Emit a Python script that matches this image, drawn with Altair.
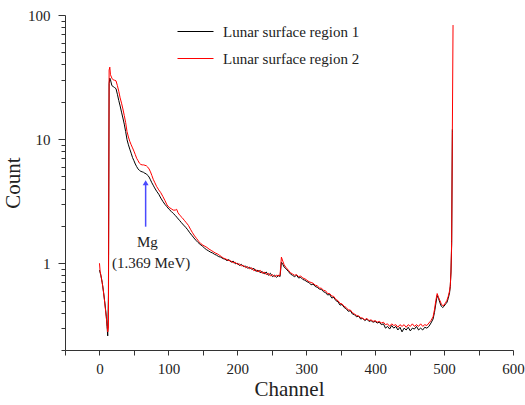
import altair as alt
import pandas as pd

# ---- Region 1 (black) ----
r1_ch_low = [0, 2, 4, 6, 8, 10, 11, 12, 13, 14, 15, 16,
             18, 20, 22, 24, 26, 28, 30, 32, 34, 36, 38, 40, 42, 44, 46, 48, 50,
             52, 54, 56, 58, 60, 62, 64, 66, 68, 70, 72, 74, 76, 78, 80,
             83, 86, 89, 92, 95, 98, 101, 104, 107, 110, 113, 116, 119, 122, 125,
             128, 131, 134, 137, 140, 143, 146, 149, 152, 155, 158, 161, 164, 167,
             170, 173, 176, 179, 182]
r1_cnt_low = [0.88, 0.80, 0.70, 0.58, 0.47, 0.37, 0.31, 0.26, 0.55, 28, 31, 30,
              27, 26.5, 26, 25.5, 23, 20.5, 18.5, 16.5, 14.8, 13.2, 11.5, 9.9, 9.0, 8.3, 7.7, 7.1, 6.7,
              6.3, 6.0, 5.75, 5.6, 5.5, 5.45, 5.4, 5.3, 5.25, 5.1, 4.95, 4.7, 4.45, 4.25, 4.05,
              3.8, 3.6, 3.35, 3.15, 2.98, 2.85, 2.72, 2.62, 2.52, 2.43, 2.32, 2.22, 2.12, 2.03, 1.95,
              1.86, 1.76, 1.68, 1.60, 1.53, 1.47, 1.42, 1.38, 1.33, 1.29, 1.26, 1.23, 1.21, 1.18,
              1.16, 1.13, 1.12, 1.09, 1.08]
r1_ch_mid = list(range(185, 261, 3)) + [262, 264, 266, 268] + list(range(271, 479, 3))
r1_cnt_mid = [1.05, 1.07, 1.02, 1.04, 0.99, 1.00, 0.96, 0.98, 0.94, 0.95,
              0.91, 0.93, 0.89, 0.91, 0.86, 0.88, 0.84, 0.86, 0.82, 0.85,
              0.80, 0.83, 0.78, 0.80, 0.77, 0.80,
              0.78, 1.02, 0.98, 0.93,
              0.90, 0.86, 0.82, 0.80, 0.78, 0.80, 0.76, 0.77, 0.74, 0.73,
              0.71, 0.70, 0.67, 0.68, 0.65, 0.64, 0.62, 0.615, 0.59, 0.58,
              0.555, 0.56, 0.525, 0.53, 0.50, 0.49, 0.46, 0.465, 0.44, 0.43,
              0.41, 0.415, 0.39, 0.385, 0.37, 0.375, 0.355, 0.36, 0.345, 0.355,
              0.34, 0.345, 0.335, 0.34, 0.33, 0.335, 0.32, 0.325, 0.30, 0.31,
              0.295, 0.315, 0.30, 0.31, 0.29, 0.305, 0.28, 0.30, 0.29, 0.305,
              0.285, 0.30, 0.295, 0.31, 0.29, 0.30, 0.29, 0.305, 0.30, 0.31]
r1_ch_high = [481, 484, 486, 488, 490, 492, 494, 496, 498, 500, 502, 504, 506, 508, 509, 510, 511, 512]
r1_cnt_high = [0.33, 0.355, 0.40, 0.47, 0.55, 0.52, 0.48, 0.45, 0.44, 0.45, 0.47, 0.48, 0.52, 0.58,
               0.65, 0.85, 1.4, 12.0]

# ---- Region 2 (red) ----
r2_ch_low = [0, 1, 3, 5, 7, 9, 11, 12, 13, 14, 15, 16, 18, 20, 22, 24, 26, 28, 30,
             32, 34, 36, 38, 40, 42, 44, 46, 48, 50, 52, 54, 56, 58, 60, 62, 64, 66, 68,
             70, 72, 74, 76, 78, 80, 83, 86, 89, 92, 95, 98, 101, 104, 107, 110, 112, 114,
             117, 120, 123, 126, 129, 132, 135, 138, 141, 144, 147, 150, 153, 156, 159,
             162, 165, 168, 171, 174, 177, 180, 182]
r2_cnt_low = [1.0, 0.86, 0.75, 0.64, 0.52, 0.41, 0.32, 0.28, 0.30, 36, 38, 33, 31, 30, 29.8, 29.5, 27, 24.3, 21.5,
              19.5, 17.5, 15.5, 13.6, 11.5, 10.4, 9.6, 9.0, 8.5, 8.0, 7.5, 7.0, 6.7, 6.4, 6.25, 6.2, 6.2, 6.15, 6.1,
              5.95, 5.75, 5.45, 5.1, 4.75, 4.5, 4.15, 3.9, 3.7, 3.45, 3.2, 2.95, 2.82, 2.75, 2.68, 2.68, 2.72, 2.55,
              2.42, 2.33, 2.22, 2.12, 2.02, 1.88, 1.76, 1.66, 1.58, 1.50, 1.44, 1.40, 1.37, 1.34, 1.30,
              1.27, 1.24, 1.21, 1.19, 1.16, 1.13, 1.10, 1.09]
r2_ch_mid = list(range(185, 261, 3)) + [262, 264, 266, 268] + list(range(271, 479, 3))
r2_cnt_mid = [1.07, 1.05, 1.04, 1.01, 1.02, 0.98, 0.99, 0.95, 0.96, 0.92,
              0.94, 0.90, 0.92, 0.87, 0.89, 0.85, 0.88, 0.83, 0.85, 0.81,
              0.83, 0.79, 0.81, 0.78, 0.80, 0.79,
              0.80, 1.12, 1.04, 0.97,
              0.92, 0.88, 0.84, 0.82, 0.80, 0.81, 0.78, 0.79, 0.76, 0.75,
              0.73, 0.71, 0.70, 0.69, 0.665, 0.66, 0.63, 0.63, 0.605, 0.60,
              0.57, 0.57, 0.545, 0.54, 0.51, 0.50, 0.475, 0.47, 0.45, 0.44,
              0.42, 0.42, 0.40, 0.39, 0.38, 0.375, 0.365, 0.36, 0.35, 0.36,
              0.345, 0.35, 0.34, 0.345, 0.335, 0.34, 0.33, 0.335, 0.32, 0.325,
              0.31, 0.325, 0.315, 0.32, 0.305, 0.32, 0.31, 0.32, 0.305, 0.32,
              0.31, 0.325, 0.31, 0.32, 0.31, 0.325, 0.31, 0.32, 0.315, 0.33]
r2_ch_high = [481, 484, 486, 488, 490, 492, 494, 496, 498, 500, 502, 504, 506, 508, 509, 510, 511, 512, 513]
r2_cnt_high = [0.345, 0.37, 0.42, 0.50, 0.57, 0.53, 0.50, 0.47, 0.455, 0.46, 0.48, 0.50, 0.54, 0.60,
               0.66, 0.85, 1.5, 11.5, 83]

series_names = ["Lunar surface region 1", "Lunar surface region 2"]
series_colors = ["#000000", "#ff0000"]

# annotation
mg_channel = [67]
mg_arrow_from = [1.97]
mg_arrow_to = [4.3]
mg_head = [4.45]
mg_text = ["Mg", "(1.369 MeV)"]
mg_text_ch = [69.5, 75]
mg_text_cnt = [1.36, 0.91]

ch1 = r1_ch_low + r1_ch_mid + r1_ch_high
v1 = r1_cnt_low + r1_cnt_mid + r1_cnt_high
ch2 = r2_ch_low + r2_ch_mid + r2_ch_high
v2 = r2_cnt_low + r2_cnt_mid + r2_cnt_high
assert len(ch1) == len(v1) and len(ch2) == len(v2)

df = pd.DataFrame({
    "channel": ch1 + ch2,
    "count": v1 + v2,
    "series": [series_names[0]] * len(ch1) + [series_names[1]] * len(ch2),
    "order": list(range(len(ch1))) + list(range(len(ch2))),
})

FONT = "Liberation Serif"
xscale = alt.Scale(domain=[-50, 600], nice=False, zero=False)
yscale = alt.Scale(type="log", domain=[0.2, 100], nice=False)

y_ticks = [0.2, 0.3, 0.4, 0.5, 0.6, 0.7, 0.8, 0.9,
           1, 2, 3, 4, 5, 6, 7, 8, 9,
           10, 20, 30, 40, 50, 60, 70, 80, 90, 100]
x_ticks = [-50, 0, 50, 100, 150, 200, 250, 300, 350, 400, 450, 500, 550, 600]
x_labeled = "indexof([0, 100, 200, 300, 400, 500, 600], datum.value) >= 0"

is_major = "datum.value == 1 || datum.value == 10 || datum.value == 100"

lines = alt.Chart(df).mark_line(strokeWidth=1, clip=True).encode(
    x=alt.X("channel:Q", scale=xscale, title="Channel",
            axis=alt.Axis(values=x_ticks, tickCount=40, format="d", labelFlush=False,
                          labelExpr="(" + x_labeled + ") ? datum.label : ''",
                          labelOverlap=False, tickSize=5, labelPadding=6, titlePadding=2, grid=False)),
    y=alt.Y("count:Q", scale=yscale, title="Count",
            axis=alt.Axis(values=y_ticks, tickCount=60, format="~g", labelOverlap=False,
                          labelExpr="(" + is_major + ") ? datum.label : ''",
                          tickSize={"condition": {"test": is_major, "value": 7}, "value": 4},
                          labelPadding=8, titlePadding=4, grid=False)),
    color=alt.Color("series:N", scale=alt.Scale(domain=series_names, range=series_colors),
                    legend=alt.Legend(title=None, orient="none", legendX=112, legendY=-2,
                                      symbolType="stroke", symbolSize=1296, symbolStrokeWidth=1,
                                      labelFont=FONT, labelFontSize=15, labelColor="#222",
                                      labelOffset=9, rowPadding=-13)),
    order="order:Q",
)

ann = pd.DataFrame({"channel": mg_channel, "y1": mg_arrow_from, "y2": mg_arrow_to, "head": mg_head})
arrow = alt.Chart(ann).mark_rule(color="#4a4aff", strokeWidth=1.5).encode(
    x=alt.X("channel:Q", scale=xscale), y=alt.Y("y1:Q", scale=yscale), y2="y2:Q")
head = alt.Chart(ann).mark_point(shape="triangle-up", filled=True, color="#4a4aff", size=35, opacity=1).encode(
    x=alt.X("channel:Q", scale=xscale), y=alt.Y("head:Q", scale=yscale))

txt = pd.DataFrame({"channel": mg_text_ch, "count": mg_text_cnt, "label": mg_text})
texts = alt.Chart(txt).mark_text(font=FONT, fontSize=15, color="#222", baseline="alphabetic").encode(
    x=alt.X("channel:Q", scale=xscale), y=alt.Y("count:Q", scale=yscale), text="label:N")

chart = alt.layer(lines, arrow, head, texts).properties(
    width=448, height=335,
    padding={"left": 65, "top": 15, "right": 12, "bottom": 55},
    autosize=alt.AutoSizeParams(type="none"),
    background="white",
).configure_view(stroke=None).configure_axis(
    labelFont=FONT, titleFont=FONT, labelFontSize=15, titleFontSize=21,
    labelColor="#222", titleColor="#222", domainColor="#333", tickColor="#333",
    titleFontWeight="normal",
)

chart.save("out.html", embed_options={"renderer": "svg", "actions": False})
